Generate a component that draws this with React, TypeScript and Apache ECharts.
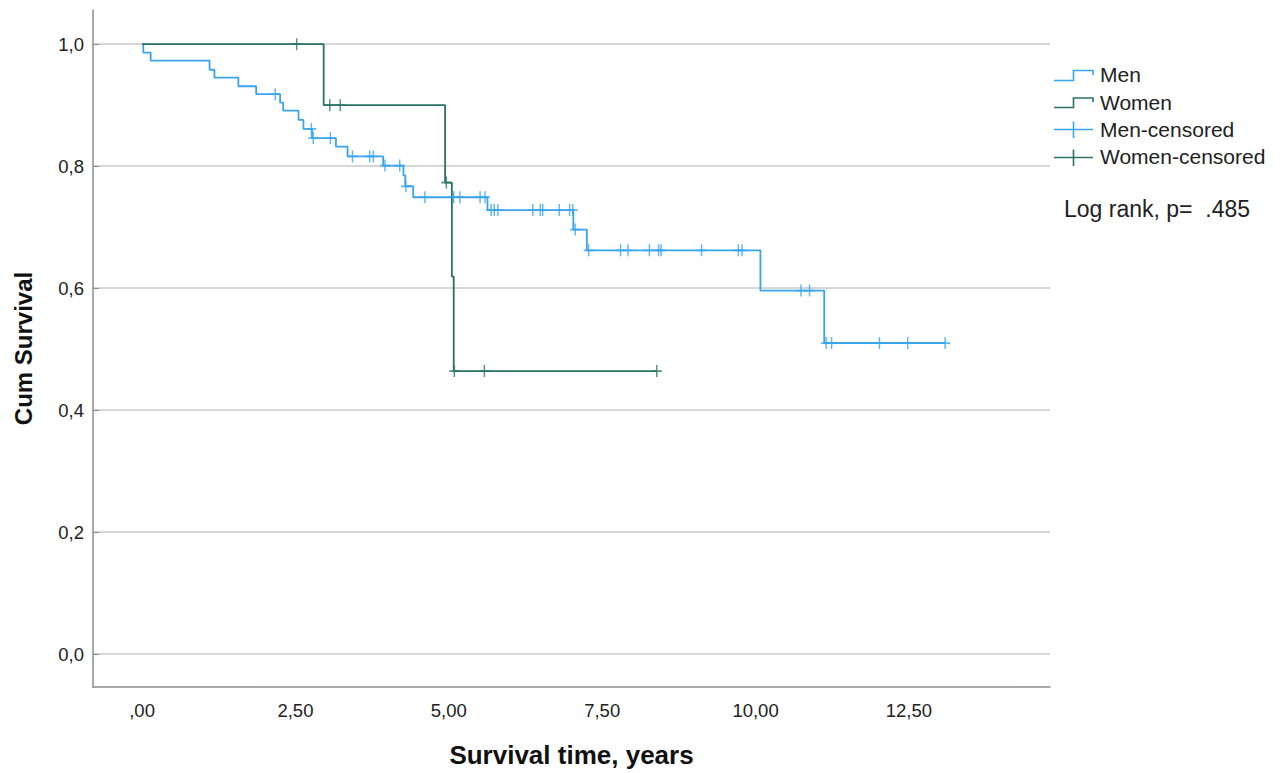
import React, { useEffect, useRef } from "react";
import * as echarts from "echarts";

// Men: events (time, survival after event)
const menEventTimes = [0.02, 0.14, 1.10, 1.18, 1.57, 1.86, 2.25, 2.30, 2.55, 2.63, 2.77, 3.16, 3.35, 3.93, 4.26, 4.29, 4.42, 5.63, 7.03, 7.25, 10.08, 11.12];
const menEventSurv = [0.986, 0.973, 0.958, 0.945, 0.931, 0.918, 0.904, 0.891, 0.876, 0.861, 0.846, 0.832, 0.816, 0.801, 0.785, 0.767, 0.749, 0.728, 0.696, 0.662, 0.596, 0.510];
const menEndTime = 13.09;
// Men: censored observations
const menCensTimes = [2.17, 2.76, 2.79, 3.07, 3.43, 3.71, 3.77, 3.96, 4.20, 4.30, 4.61, 5.08, 5.18, 5.51, 5.59, 5.69, 5.74, 5.80, 6.37, 6.49, 6.53, 6.80, 6.97, 7.02, 7.06, 7.28, 7.80, 7.92, 8.27, 8.42, 8.46, 9.12, 9.72, 9.78, 10.74, 10.88, 11.15, 11.24, 12.02, 12.48, 13.09];
const menCensSurv = [0.918, 0.861, 0.846, 0.846, 0.816, 0.816, 0.816, 0.801, 0.801, 0.767, 0.749, 0.749, 0.749, 0.749, 0.749, 0.728, 0.728, 0.728, 0.728, 0.728, 0.728, 0.728, 0.728, 0.728, 0.696, 0.662, 0.662, 0.662, 0.662, 0.662, 0.662, 0.662, 0.662, 0.662, 0.596, 0.596, 0.510, 0.510, 0.510, 0.510, 0.510];

// Women
const womenEventTimes = [2.96, 4.94, 5.05, 5.08];
const womenEventSurv = [0.9, 0.773, 0.619, 0.464];
const womenEndTime = 8.39;
const womenCensTimes = [2.52, 3.06, 3.23, 4.96, 5.09, 5.58, 8.39];
const womenCensSurv = [1.0, 0.9, 0.9, 0.773, 0.464, 0.464, 0.464];

const xTickValues = [0, 2.5, 5, 7.5, 10, 12.5];
const xTickLabels = [",00", "2,50", "5,00", "7,50", "10,00", "12,50"];
const yTickValues = [0, 0.2, 0.4, 0.6, 0.8, 1.0];
const yTickLabels = ["0,0", "0,2", "0,4", "0,6", "0,8", "1,0"];

const MEN = "#38a5ee";
const WOMEN = "#2a7266";
const FONT = 'Arial, "Liberation Sans", sans-serif';

function stepData(times: number[], surv: number[], end: number) {
  const d: number[][] = [[0, 1]];
  times.forEach((t, i) => d.push([t, surv[i]]));
  d.push([end, surv[surv.length - 1]]);
  return d;
}

const CROSS = "path://M5,0 L5,12 M0,6 L10,6";

export default function App() {
  const ref = useRef<HTMLDivElement>(null);
  useEffect(() => {
    if (!ref.current) return;
    const chart = echarts.init(ref.current, undefined, { renderer: "svg" });
    const legendText = (y: number, text: string) => ({
      type: "text",
      left: 1100,
      top: y - 12,
      style: { text, font: `21px ${FONT}`, fill: "#222" },
    });
    chart.setOption({
      animation: false,
      backgroundColor: "#ffffff",
      grid: { left: 93, right: 230, top: 10, bottom: 86, containLabel: false },
      xAxis: {
        type: "value",
        min: -0.8,
        max: 14.8,
        name: "Survival time, years",
        nameLocation: "middle",
        nameGap: 55,
        nameTextStyle: { fontFamily: FONT, fontSize: 26, fontWeight: "bold", color: "#111" },
        axisLine: { show: true, onZero: false, lineStyle: { color: "#8c8c8c", width: 1.5 } },
        axisTick: { show: false, customValues: xTickValues },
        axisLabel: {
          customValues: xTickValues,
          margin: 14,
          fontFamily: FONT,
          fontSize: 18.5,
          color: "#222",
          formatter: (v: number) => {
            const i = xTickValues.findIndex((x) => Math.abs(x - v) < 1e-6);
            return i >= 0 ? xTickLabels[i] : "";
          },
        },
        splitLine: { show: false },
      },
      yAxis: {
        type: "value",
        min: -0.054,
        max: 1.056,
        name: "Cum Survival",
        nameLocation: "middle",
        nameRotate: 90,
        nameGap: 58,
        nameTextStyle: { fontFamily: FONT, fontSize: 24, fontWeight: "bold", color: "#111" },
        axisLine: { show: true, onZero: false, lineStyle: { color: "#8c8c8c", width: 1.5 } },
        axisTick: { show: true, inside: true, length: 6, customValues: yTickValues, lineStyle: { color: "#8c8c8c" } },
        axisLabel: {
          customValues: yTickValues,
          margin: 9,
          fontFamily: FONT,
          fontSize: 18.5,
          color: "#222",
          formatter: (v: number) => {
            const i = yTickValues.findIndex((x) => Math.abs(x - v) < 1e-6);
            return i >= 0 ? yTickLabels[i] : "";
          },
        },
        splitLine: { show: true, lineStyle: { color: "#c8c8c8", width: 1.5 } },
      },
      series: [
        {
          name: "Men",
          type: "line",
          step: "end",
          data: stepData(menEventTimes, menEventSurv, menEndTime),
          showSymbol: false,
          symbol: "none",
          lineStyle: { color: MEN, width: 1.8 },
          z: 3,
        },
        {
          name: "Women",
          type: "line",
          step: "end",
          data: stepData(womenEventTimes, womenEventSurv, womenEndTime),
          showSymbol: false,
          symbol: "none",
          lineStyle: { color: WOMEN, width: 1.8 },
          z: 4,
        },
        {
          name: "Men-censored",
          type: "scatter",
          data: menCensTimes.map((t, i) => [t, menCensSurv[i]]),
          symbol: CROSS,
          symbolSize: [10, 12],
          itemStyle: { color: "rgba(0,0,0,0)", borderColor: MEN, borderWidth: 1.6 },
          z: 5,
        },
        {
          name: "Women-censored",
          type: "scatter",
          data: womenCensTimes.map((t, i) => [t, womenCensSurv[i]]),
          symbol: CROSS,
          symbolSize: [10, 12],
          itemStyle: { color: "rgba(0,0,0,0)", borderColor: WOMEN, borderWidth: 1.6 },
          z: 6,
        },
      ],
      graphic: [
        {
          type: "polyline",
          shape: { points: [[1054, 80.5], [1073.5, 80.5], [1073.5, 70.5], [1093, 70.5], [1093, 75]] },
          style: { stroke: MEN, lineWidth: 1.6, fill: "none" },
        },
        {
          type: "polyline",
          shape: { points: [[1054, 107.5], [1073.5, 107.5], [1073.5, 98], [1093, 98], [1093, 102]] },
          style: { stroke: WOMEN, lineWidth: 1.6, fill: "none" },
        },
        { type: "line", shape: { x1: 1054, y1: 129.5, x2: 1093, y2: 129.5 }, style: { stroke: MEN, lineWidth: 1.6 } },
        { type: "line", shape: { x1: 1073.5, y1: 121.5, x2: 1073.5, y2: 138 }, style: { stroke: MEN, lineWidth: 1.6 } },
        { type: "line", shape: { x1: 1054, y1: 157.5, x2: 1093, y2: 157.5 }, style: { stroke: WOMEN, lineWidth: 1.6 } },
        { type: "line", shape: { x1: 1073.5, y1: 149.5, x2: 1073.5, y2: 166 }, style: { stroke: WOMEN, lineWidth: 1.6 } },
        legendText(76, "Men"),
        legendText(104, "Women"),
        legendText(131, "Men-censored"),
        legendText(158, "Women-censored"),
        {
          type: "text",
          left: 1064,
          top: 197,
          style: { text: "Log rank, p=  .485", font: `23px ${FONT}`, fill: "#222" },
        },
      ],
    });
    return () => chart.dispose();
  }, []);
  return (
    <div
      ref={ref}
      style={{ position: "absolute", left: 0, top: 0, width: 1280, height: 773 }}
    />
  );
}
